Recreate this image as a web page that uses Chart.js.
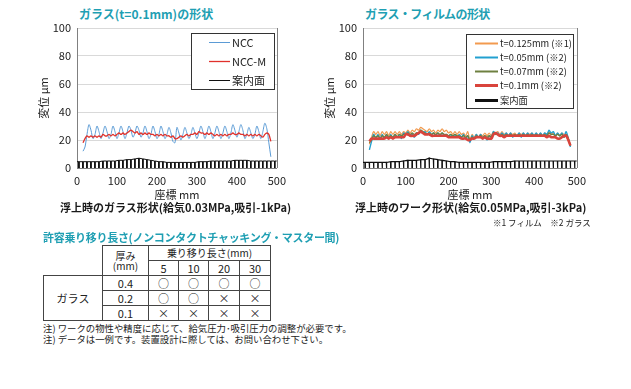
<!DOCTYPE html>
<html><head><meta charset="utf-8">
<script src="https://cdn.jsdelivr.net/npm/chart.js@4/dist/chart.umd.min.js"></script>
<style>
body{margin:0;width:631px;height:389px;background:#fff;position:relative;overflow:hidden;font-family:"Noto Sans CJK JP","Noto Sans",sans-serif;color:#222}
.abs{position:absolute;white-space:nowrap;line-height:1}
.ttl{color:#1f9fb3;font-weight:bold;font-size:12px}
.cap{font-size:11px;font-weight:bold;color:#1a1a1a}
.note{font-size:9.4px;color:#222}
.box{position:absolute}
table{position:absolute;border-collapse:collapse;table-layout:fixed;font-size:11px;color:#222}
td{border:1px solid #444;height:14px;padding:0;text-align:center;line-height:1}
td.blank{border-top:none;border-left:none}
</style>
</head><body>
<div class="abs ttl" style="left:79px;top:8px">ガラス(t=0.1mm)の形状</div>
<div class="abs ttl" style="left:365px;top:8px;letter-spacing:-0.6px">ガラス・フィルムの形状</div>
<div class="box" style="left:0;top:0;width:292px;height:205px"><canvas id="c1" width="292" height="205"></canvas></div>
<div class="box" style="left:300px;top:0;width:292px;height:205px"><canvas id="c2" width="292" height="205"></canvas></div>
<div class="abs cap" style="left:60px;top:202px">浮上時のガラス形状(給気0.03MPa,吸引-1kPa)</div>
<div class="abs cap" style="left:355px;top:202px">浮上時のワーク形状(給気0.05MPa,吸引-3kPa)</div>
<div class="abs" style="left:493px;top:218px;font-size:8.5px">※1 フィルム　※2 ガラス</div>
<div class="abs ttl" style="left:43px;top:232px;font-size:11px;letter-spacing:-0.3px">許容乗り移り長さ(ノンコンタクトチャッキング・マスター間)</div>
<table style="left:43px;top:245px;width:227px">
<colgroup><col style="width:59px"><col style="width:46px"><col style="width:30px"><col style="width:30px"><col style="width:31px"><col style="width:31px"></colgroup>
<tr><td rowspan="2" class="blank"></td><td rowspan="2" style="font-size:10px">厚み<br>(mm)</td><td colspan="4" style="font-size:10px">乗り移り長さ(mm)</td></tr>
<tr><td>5</td><td>10</td><td>20</td><td>30</td></tr>
<tr><td rowspan="3">ガラス</td><td>0.4</td><td>○</td><td>○</td><td>○</td><td>○</td></tr>
<tr><td>0.2</td><td>○</td><td>○</td><td>×</td><td>×</td></tr>
<tr><td>0.1</td><td>×</td><td>×</td><td>×</td><td>×</td></tr>
</table>
<div class="abs note" style="left:43px;top:324px">注) ワークの物性や精度に応じて、給気圧力･吸引圧力の調整が必要です。</div>
<div class="abs note" style="left:43px;top:335px">注) データは一例です。装置設計に際しては、お問い合わせ下さい。</div>
<script>
// axis ticks
const xTicks = [0,100,200,300,400,500];
const yTicks = [0,10,20,30,40,50,60,70,80,90,100];

// measuring positions (mm), shared by both charts
const pos = [
 15,20,25,30,35,40,45,50,55,60,
 65,70,75,80,85,90,95,100,105,110,
 115,120,125,130,135,140,145,150,155,160,
 165,170,175,180,185,190,195,200,205,210,
 215,220,225,230,235,240,245,250,255,260,
 265,270,275,280,285,290,295,300,305,310,
 315,320,325,330,335,340,345,350,355,360,
 365,370,375,380,385,390,395,400,405,410,
 415,420,425,430,435,440,445,450,455,460,
 465,470,475,480,485];

// chart 1: glass t=0.1mm
const ncc = [
 12,15,24,31,27,21,24,30,26,21,
 25,30,26,21,24,30,26,21,25,30,
 26,21,25,30,27,22,25,30,27,22,
 25,30,26,21,24,30,26,21,24,30,
 26,21,24,29,25,19,18,29,25,20,
 24,29,25,21,24,29,25,21,25,30,
 26,21,25,30,26,21,25,30,26,21,
 25,30,26,21,25,31,27,22,26,31,
 27,21,24,29,25,21,24,30,26,21,
 26,32,28,18,8];
const nccM = [
 18,21,23,22,23,22,23,22,23,22,
 24,23,23,24,23,24,23,24,25,24,
 25,24,25,26,27,26,25,26,24,25,
 24,25,24,25,24,24,23,24,23,24,
 23,24,23,23,22,23,21,21,22,23,
 22,23,24,23,24,24,25,24,26,25,
 25,24,25,24,25,24,23,24,23,24,
 23,24,23,24,24,25,24,24,25,24,
 24,23,24,23,24,23,24,23,24,23,
 22,24,25,24,19];

// guide surface: groove centres (mm) and surface level at each groove
const grooveAt = [
 5,15,25,35,45,55,65,75,85,95,
 105,115,125,135,145,155,165,175,185,195,
 205,215,225,235,245,255,265,275,285,295,
 305,315,325,335,345,355,365,375,385,395,
 405,415,425,435,445,455,465,475,485,495];
const guide1 = [
 4.5,4.5,4.5,4.5,4.5,4.5,5,5,5,5,
 5.5,5.5,6,6,6.5,7,6.5,6,5.5,5,
 4.5,4.5,4,4,4,4,4,4,4,4,
 4.5,4.5,4.5,5,5,5,5,5,5,5.5,
 5.5,5.5,5.5,5,5,5,5,5,5,5];

// chart 2: glass / film
const t0125 = [
 17,22,26,24,26,23,26,24,26,23,
 26,24,26,24,26,24,26,25,27,25,
 27,26,28,27,29,28,27,26,28,26,
 27,25,27,26,28,26,27,25,26,24,
 26,24,26,24,25,23,26,20,24,22,
 24,22,24,23,25,23,25,23,26,25,
 26,24,26,24,25,23,25,24,25,23,
 25,24,25,23,25,24,25,23,25,23,
 25,23,25,24,26,24,25,23,25,23,
 25,24,24,20,16];
const t005 = [
 13,19,24,21,24,21,24,21,24,21,
 24,21,24,22,24,21,25,24,26,23,
 24,22,25,24,27,25,26,24,26,24,
 25,23,25,23,25,23,24,22,24,22,
 24,22,24,22,24,21,23,18,23,21,
 24,22,24,21,23,20,23,22,26,24,
 25,23,25,23,25,23,25,22,24,23,
 25,22,25,23,25,23,25,23,25,23,
 25,23,25,24,27,25,26,23,25,23,
 25,22,26,21,15];
const t007 = [
 18,20,23,22,23,21,23,22,24,22,
 23,22,24,22,24,23,24,24,25,24,
 25,24,25,25,27,26,25,24,25,24,
 25,24,25,24,25,24,24,23,24,23,
 24,23,23,22,23,22,23,20,22,21,
 23,22,23,22,23,22,23,22,25,24,
 24,23,24,23,24,23,24,23,24,23,
 24,23,24,23,24,23,24,23,24,23,
 24,23,24,23,25,24,24,23,24,23,
 24,22,24,21,16];
const t01 = [
 19,21,21,21,21,21,21,21,22,21,
 22,21,22,22,22,22,22,24,24,23,
 23,23,24,25,26,25,24,24,24,23,
 23,23,23,23,23,23,23,22,22,22,
 22,22,22,21,21,21,20,20,21,21,
 22,22,22,21,22,21,21,21,24,25,
 24,23,23,22,23,23,23,23,23,23,
 23,23,23,23,23,23,23,23,23,23,
 23,23,23,22,23,22,22,22,21,21,
 22,23,23,20,16];
const guide2 = [
 4,4,4,4,4,4,4.5,4.5,4.5,5,
 5.5,5.5,5.5,6,6,7,6.5,6,5.5,5,
 4.5,4.5,4,4,4,4,4,4,4,4,
 4.5,4.5,4.5,4.5,4.5,5,5,5,5,5,
 5,5,5,5,5,5,5,5,5,5];

const FONT = '"Noto Sans CJK JP","Noto Sans",sans-serif';
const xy = (vals) => pos.map((p,i)=>({x:p,y:vals[i]}));
function guidePath(levels){
  const pts=[{x:0,y:levels[0]}];
  grooveAt.forEach((g,i)=>{
    pts.push({x:g-0.5,y:levels[i]},{x:g-0.5,y:0},{x:g+0.5,y:0},{x:g+0.5,y:levels[i]});
  });
  pts.push({x:500,y:levels[levels.length-1]});
  return pts;
}

// legend drawn as a framed box inside the plot, like the original
const boxLegend = {
  id:'boxLegend',
  afterDraw(chart){
    const o = chart.options.plugins.boxLegend; if(!o) return;
    const ca = chart.chartArea, ctx = chart.ctx;
    const bx = Math.round(ca.right - o.inset - o.w), by = Math.round(ca.top + o.top);
    ctx.save();
    ctx.fillStyle='#fff'; ctx.fillRect(bx,by,o.w,o.h);
    ctx.strokeStyle='#333'; ctx.lineWidth=1; ctx.strokeRect(bx+0.5,by+0.5,o.w,o.h);
    ctx.font = o.fontSize+'px '+FONT; ctx.textBaseline='middle'; ctx.fillStyle='#222';
    chart.data.datasets.forEach((ds,i)=>{
      const y = Math.round(by + o.row0 + i*o.rowH)+0.5;
      ctx.strokeStyle=ds.borderColor; ctx.lineWidth=ds.legendWidth||ds.borderWidth;
      ctx.beginPath(); ctx.moveTo(bx+o.l1,y); ctx.lineTo(bx+o.l2,y); ctx.stroke();
      ctx.fillText(ds.label, bx+o.tx, y);
    });
    // right frame of plot area
    ctx.strokeStyle='#808080'; ctx.lineWidth=1;
    ctx.beginPath(); ctx.moveTo(Math.round(ca.right)+0.5,ca.top); ctx.lineTo(Math.round(ca.right)+0.5,ca.bottom); ctx.stroke();
    ctx.restore();
  }
};

function makeChart(id, datasets, padLeft, legendOpts){
  return new Chart(document.getElementById(id), {
    type:'line',
    data:{datasets},
    plugins:[boxLegend],
    options:{
      responsive:false, animation:false,
      layout:{padding:{left:padLeft,right:13,top:28,bottom:0}},
      elements:{point:{radius:0}, line:{tension:0.3}},
      plugins:{legend:{display:false}, tooltip:{enabled:false}, boxLegend:legendOpts},
      scales:{
        x:{type:'linear',min:0,max:500,
          afterBuildTicks:s=>{s.ticks=xTicks.map(v=>({value:v}));},
          afterFit:s=>{s.height=37;},
          grid:{display:false,drawTicks:false},
          border:{color:'#808080'},
          ticks:{color:'#222',font:{family:FONT,size:11},padding:6,maxRotation:0},
          title:{display:true,text:'座標 mm',color:'#222',font:{family:FONT,size:11},padding:{top:0,bottom:4}}},
        y:{min:0,max:100,
          afterBuildTicks:s=>{s.ticks=yTicks.map(v=>({value:v}));},
          afterFit:s=>{s.width=44;},
          grid:{color:'#d9d9d9',drawTicks:false},
          border:{color:'#808080'},
          ticks:{color:'#222',font:{family:FONT,size:11},padding:6},
          title:{display:true,text:'変位 μm',color:'#222',font:{family:FONT,size:11},padding:{top:4,bottom:0}}}
      }
    }
  });
}

makeChart('c1', [
  {label:'NCC', data:xy(ncc), borderColor:'#5b9bd5', borderWidth:1, order:3},
  {label:'NCC-M', data:xy(nccM), borderColor:'#e0312b', borderWidth:1.3, order:2},
  {label:'案内面', data:guidePath(guide1), borderColor:'#111', borderWidth:1, tension:0, order:1}
], 33, {inset:3,top:5,w:83,h:56,l1:18,l2:39,tx:41,row0:9,rowH:18.8,fontSize:11});

makeChart('c2', [
  {label:'t=0.125mm (※1)', data:xy(t0125), borderColor:'#f29a4f', borderWidth:1.2, legendWidth:2, order:5},
  {label:'t=0.05mm (※2)', data:xy(t005), borderColor:'#22a0d0', borderWidth:1.4, legendWidth:2, order:4},
  {label:'t=0.07mm (※2)', data:xy(t007), borderColor:'#6e8040', borderWidth:1.4, legendWidth:2, order:3},
  {label:'t=0.1mm (※2)', data:xy(t01), borderColor:'#d9443c', borderWidth:2.6, legendWidth:3, order:2},
  {label:'案内面', data:guidePath(guide2), borderColor:'#111', borderWidth:1.2, legendWidth:3, tension:0, order:1}
], 19, {inset:4,top:6,w:107,h:74,l1:9,l2:32,tx:34,row0:8.5,rowH:14.3,fontSize:9.3});
</script>
</body></html>
